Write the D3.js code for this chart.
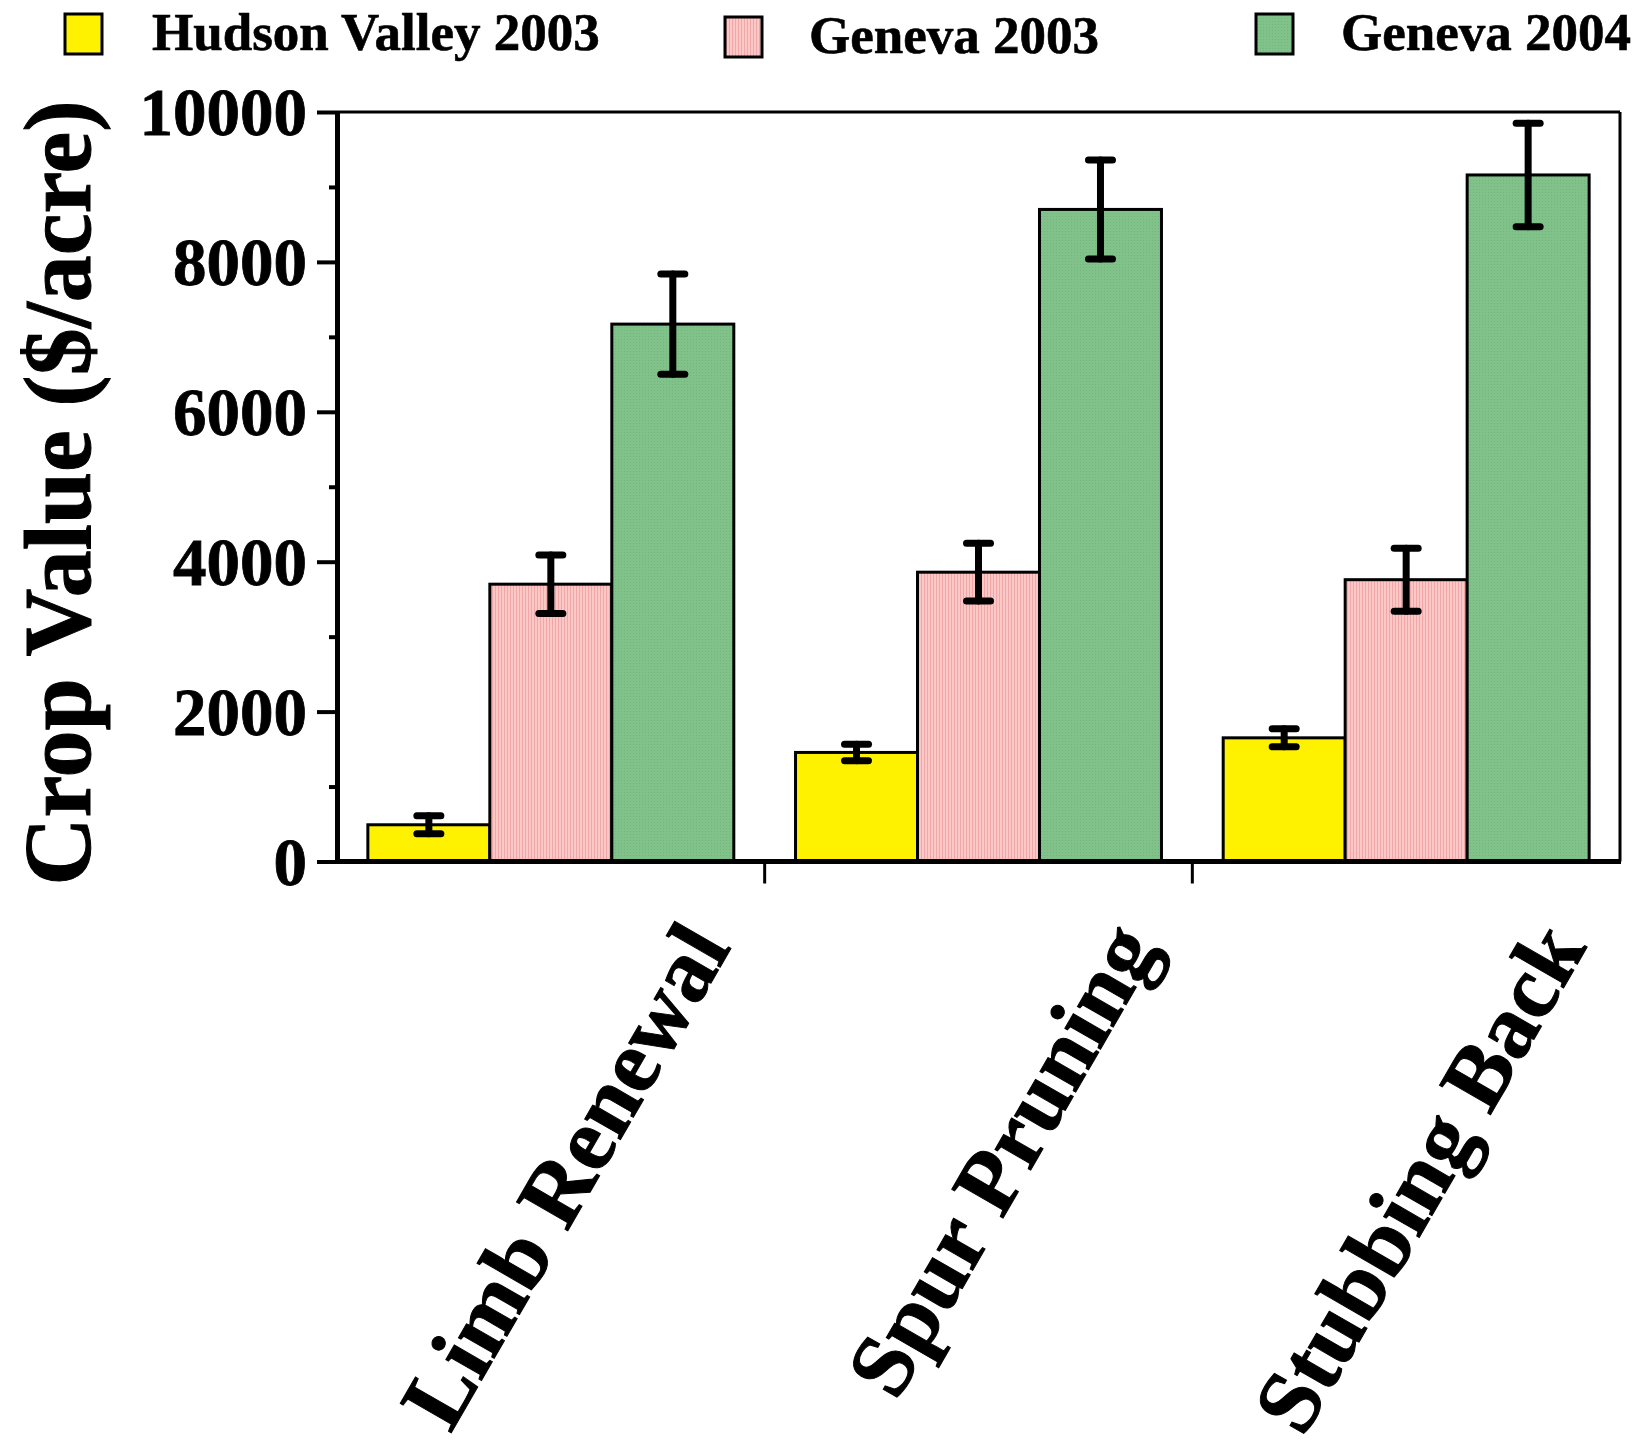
<!DOCTYPE html>
<html><head><meta charset="utf-8">
<script src="https://cdn.jsdelivr.net/npm/d3@7"></script>
<style>body{margin:0;background:#fff}</style>
</head><body><svg id="c" width="1641" height="1447"></svg>
<script>
const categories = ["Limb Renewal", "Spur Pruning", "Stubbing Back"];
const seriesNames = ["Hudson Valley 2003", "Geneva 2003", "Geneva 2004"];
const hudson2003 = [490, 1455, 1650];
const hudson2003Err = [120, 110, 120];
const geneva2003 = [3700, 3860, 3760];
const geneva2003Err = [390, 385, 420];
const geneva2004 = [7170, 8700, 9160];
const geneva2004Err = [670, 660, 690];
const yTicks = [0, 2000, 4000, 6000, 8000, 10000];
const yMinorTicks = [1000, 3000, 5000, 7000, 9000];
const yTitle = "Crop Value ($/acre)";

const seriesValues = [hudson2003, geneva2003, geneva2004];
const seriesErrs = [hudson2003Err, geneva2003Err, geneva2004Err];
const fills = ["#FFF200", "url(#pinkPat)", "url(#greenPat)"];

const FONT = "'Liberation Serif','Times New Roman',serif";
const svg = d3.select("#c");
svg.append("rect").attr("width", 1641).attr("height", 1447).attr("fill", "#fff");

const defs = svg.append("defs");
const pp = defs.append("pattern").attr("id", "pinkPat").attr("patternUnits", "userSpaceOnUse")
  .attr("width", 3).attr("height", 3);
pp.append("rect").attr("width", 3).attr("height", 3).attr("fill", "#FBC8C8");
pp.append("rect").attr("width", 1).attr("height", 3).attr("fill", "#F2A6A6");
const gp = defs.append("pattern").attr("id", "greenPat").attr("patternUnits", "userSpaceOnUse")
  .attr("width", 3).attr("height", 3);
gp.append("rect").attr("width", 3).attr("height", 3).attr("fill", "#80C289");
gp.append("rect").attr("width", 1).attr("height", 1).attr("fill", "#74B67C");

const L = 337, R = 1620, T = 112, B = 861.5;
const x0 = d3.scaleBand().domain(categories).range([L, R]).padding(0);
const x1 = d3.scaleBand().domain(seriesNames).range([0, x0.bandwidth()]).paddingInner(0).paddingOuter(0.253);
const y = d3.scaleLinear().domain([0, 10000]).range([B, T]);

const data = [];
categories.forEach((c, i) => seriesNames.forEach((s, j) => {
  data.push({c, s, j, v: seriesValues[j][i], e: seriesErrs[j][i]});
}));

// bars
svg.append("g").selectAll("rect").data(data).join("rect")
  .attr("x", d => x0(d.c) + x1(d.s))
  .attr("y", d => y(d.v))
  .attr("width", x1.bandwidth())
  .attr("height", d => y(0) - y(d.v))
  .attr("fill", d => fills[d.j])
  .attr("stroke", "#000").attr("stroke-width", 3);

// error bars
const eg = svg.append("g").attr("stroke", "#000").attr("stroke-width", 7).attr("stroke-linecap", "round");
data.forEach(d => {
  const cx = x0(d.c) + x1(d.s) + x1.bandwidth() / 2;
  eg.append("line").attr("x1", cx).attr("x2", cx).attr("y1", y(d.v + d.e)).attr("y2", y(d.v - d.e));
  [d.v + d.e, d.v - d.e].forEach(v => {
    eg.append("line").attr("x1", cx - 12).attr("x2", cx + 12).attr("y1", y(v)).attr("y2", y(v));
  });
});

// frame top/right
svg.append("line").attr("x1", L).attr("x2", R).attr("y1", T).attr("y2", T).attr("stroke", "#000").attr("stroke-width", 3);
svg.append("line").attr("x1", R).attr("x2", R).attr("y1", T).attr("y2", B).attr("stroke", "#000").attr("stroke-width", 3);

// y axis
const yAxis = svg.append("g").attr("transform", `translate(${L},0)`)
  .call(d3.axisLeft(y).tickValues(yTicks).tickSize(20).tickSizeOuter(0).tickPadding(10).tickFormat(d3.format("d")));
yAxis.select(".domain").attr("stroke-width", 5);
yAxis.selectAll(".tick line").attr("stroke-width", 4);
yAxis.selectAll(".tick text").attr("font-family", FONT).attr("font-weight", "bold").attr("font-size", 67)
  .attr("fill", "#000").attr("stroke", "#000").attr("stroke-width", 0.8).attr("dy", "0.34em");
const yMinor = svg.append("g").attr("transform", `translate(${L},0)`)
  .call(d3.axisLeft(y).tickValues(yMinorTicks).tickSize(8).tickSizeOuter(0).tickFormat(""));
yMinor.select(".domain").remove();
yMinor.selectAll(".tick line").attr("stroke-width", 4);

// x axis
svg.append("line").attr("x1", L - 2).attr("x2", R + 1).attr("y1", B).attr("y2", B).attr("stroke", "#000").attr("stroke-width", 5);
svg.append("g").selectAll("line").data(categories.slice(1)).join("line")
  .attr("x1", d => x0(d)).attr("x2", d => x0(d)).attr("y1", B).attr("y2", B + 22)
  .attr("stroke", "#000").attr("stroke-width", 3);

// x labels
svg.append("g").selectAll("text").data(categories).join("text")
  .attr("transform", d => `translate(${x0(d) + x0.bandwidth() / 2 + 181},947) rotate(-60)`)
  .attr("text-anchor", "end")
  .attr("font-family", FONT).attr("font-weight", "bold").attr("font-size", 90)
  .attr("stroke", "#000").attr("stroke-width", 1)
  .text(d => d);

// y title
svg.append("text").attr("transform", "translate(90,493) rotate(-90)")
  .attr("text-anchor", "middle").attr("font-family", FONT).attr("font-weight", "bold")
  .attr("font-size", 96).attr("textLength", 785).attr("lengthAdjust", "spacingAndGlyphs")
  .attr("stroke", "#000").attr("stroke-width", 1)
  .text(yTitle);

// legend
const legBoxX = [65, 725, 1256];
const legTextX = [152, 809, 1341];
const legY = [14, 17, 14];
const lg = svg.append("g");
seriesNames.forEach((s, j) => {
  lg.append("rect").attr("x", legBoxX[j]).attr("y", legY[j]).attr("width", 37).attr("height", 40)
    .attr("fill", fills[j]).attr("stroke", "#000").attr("stroke-width", 3);
  lg.append("text").attr("x", legTextX[j]).attr("y", legY[j] + 36)
    .attr("font-family", FONT).attr("font-weight", "bold").attr("font-size", 53)
    .attr("stroke", "#000").attr("stroke-width", 0.6).text(s);
});
</script></body></html>
